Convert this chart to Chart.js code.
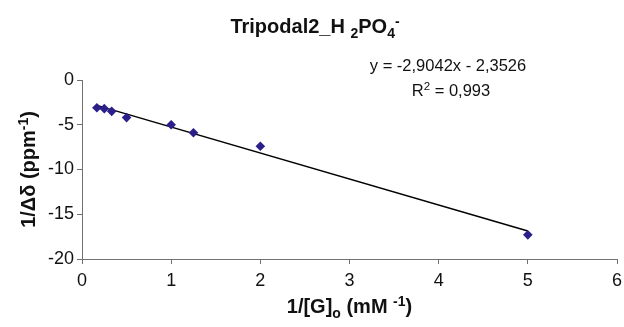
<!DOCTYPE html>
<html>
<head>
<meta charset="utf-8">
<script src="https://cdn.jsdelivr.net/npm/chart.js@4.4.1/dist/chart.umd.min.js"></script>
<style>
  html, body { margin: 0; padding: 0; background: #fff; }
  #wrap { width: 624px; height: 327px; }
</style>
</head>
<body>
<div id="wrap"><canvas id="plot"></canvas></div>
<script>
  // 1/[G]o (mM-1) vs 1/delta-delta (ppm-1)
  var xValues = [0.167, 0.25, 0.333, 0.5, 1, 1.25, 2, 5];
  var yValues = [-3.1, -3.2, -3.5, -4.2, -5.0, -5.9, -7.4, -17.3];

  // linear trendline reported on the chart
  var slope = -2.9042;
  var intercept = -2.3526;
  var eqLines = ["y = -2,9042x - 2,3526", "R2 = 0,993"];

  var xTicks = [0, 1, 2, 3, 4, 5, 6];
  var yTicks = [0, -5, -10, -15, -20];

  var FONT = "'Liberation Sans', Arial, sans-serif";
  var axisColor = "#707070";

  var points = xValues.map(function (x, i) { return { x: x, y: yValues[i] }; });
  var xMin = Math.min.apply(null, xValues), xMax = Math.max.apply(null, xValues);
  var trend = [
    { x: xMin, y: slope * xMin + intercept },
    { x: xMax, y: slope * xMax + intercept }
  ];

  // draw text made of pieces, some of them sub/superscript
  function richWidth(ctx, parts, size, weight) {
    var w = 0;
    parts.forEach(function (p) {
      var s = p.k ? size * 0.7 : size;
      ctx.font = weight + " " + s + "px " + FONT;
      w += ctx.measureText(p.t).width;
    });
    return w;
  }
  function drawRich(ctx, parts, cx, cy, size, weight) {
    var w = richWidth(ctx, parts, size, weight);
    var x = cx - w / 2;
    ctx.textBaseline = "alphabetic";
    ctx.textAlign = "left";
    var base = cy + size * 0.36;
    parts.forEach(function (p) {
      var s = p.k ? size * 0.7 : size;
      var dy = p.k === "sub" ? size * 0.22 : (p.k === "sup" ? -size * 0.38 : 0);
      ctx.font = weight + " " + s + "px " + FONT;
      ctx.fillText(p.t, x, base + dy);
      x += ctx.measureText(p.t).width;
    });
  }

  var labels = {
    id: "labels",
    afterDraw: function (chart) {
      var ctx = chart.ctx;
      var a = chart.chartArea;
      ctx.save();
      ctx.fillStyle = "#111";
      drawRich(ctx, [
        { t: "Tripodal2_H " }, { t: "2", k: "sub" }, { t: "PO" }, { t: "4", k: "sub" }, { t: "-", k: "sup" }
      ], 315, 26, 20, "bold");

      drawRich(ctx, [{ t: eqLines[0] }], 448, 65, 16.5, "normal");
      drawRich(ctx, [{ t: "R" }, { t: "2", k: "sup" }, { t: eqLines[1].slice(2) }], 451, 90, 16.5, "normal");

      drawRich(ctx, [
        { t: "1/[G]" }, { t: "o", k: "sub" }, { t: " (mM " }, { t: "-1", k: "sup" }, { t: ")" }
      ], (a.left + a.right) / 2, 306, 20, "bold");

      ctx.translate(28, (a.top + a.bottom) / 2);
      ctx.rotate(-Math.PI / 2);
      drawRich(ctx, [
        { t: "1/\u0394\u03b4 (ppm" }, { t: "-1", k: "sup" }, { t: ")" }
      ], 0, 0, 20, "bold");
      ctx.restore();
    }
  };

  function fixX(scale) { scale.height = 68; scale.paddingLeft = 0; scale.paddingRight = 0; }
  function fixY(scale) { scale.width = 82; scale.paddingTop = 0; scale.paddingBottom = 0; }

  new Chart(document.getElementById("plot").getContext("2d"), {
    type: "scatter",
    data: {
      datasets: [
        {
          label: "data",
          data: points,
          pointStyle: "rectRot",
          pointRadius: 4.8,
          backgroundColor: "#2b1f8a",
          borderColor: "#2b1f8a",
          borderWidth: 0,
          order: 1
        },
        {
          label: "trend",
          type: "line",
          data: trend,
          borderColor: "#000",
          borderWidth: 1.5,
          pointRadius: 0,
          fill: false,
          order: 2
        }
      ]
    },
    options: {
      responsive: true,
      maintainAspectRatio: false,
      animation: false,
      events: [],
      layout: { padding: { left: 0, top: 80, right: 7, bottom: 0 } },
      plugins: {
        legend: { display: false },
        tooltip: { enabled: false },
        title: { display: false }
      },
      scales: {
        x: {
          type: "linear",
          min: 0,
          max: 6,
          afterBuildTicks: function (s) { s.ticks = xTicks.map(function (v) { return { value: v }; }); },
          afterFit: fixX,
          border: { color: axisColor, width: 1 },
          grid: { drawOnChartArea: false, color: axisColor, tickLength: 5 },
          ticks: { color: "#111", padding: 6, maxRotation: 0, font: { family: FONT, size: 18 } }
        },
        y: {
          type: "linear",
          min: -20,
          max: 0,
          afterBuildTicks: function (s) { s.ticks = yTicks.map(function (v) { return { value: v }; }); },
          afterFit: fixY,
          border: { color: axisColor, width: 1 },
          grid: { drawOnChartArea: false, color: axisColor, tickLength: 5 },
          ticks: { color: "#111", padding: 3, font: { family: FONT, size: 18 } }
        }
      }
    },
    plugins: [labels]
  });
</script>
</body>
</html>
